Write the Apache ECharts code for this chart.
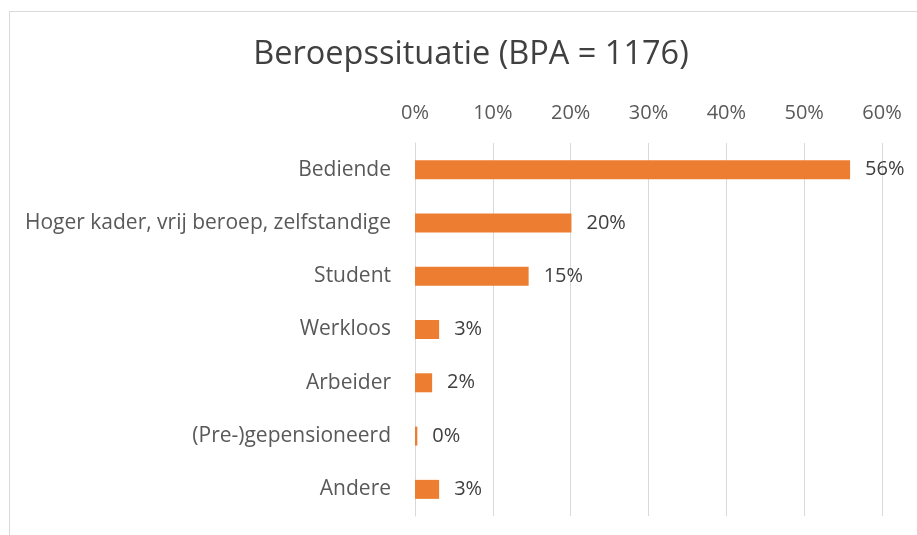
<!DOCTYPE html>
<html>
<head>
<meta charset="utf-8">
<script src="https://cdn.jsdelivr.net/npm/echarts@6/dist/echarts.min.js"></script>
<style>html,body{margin:0;padding:0;background:#fff}#c{width:917px;height:535px}</style>
</head>
<body>
<div id="c"></div>
<script>
const titleText = 'Beroepssituatie (BPA = 1176)';
const categories = ['Bediende', 'Hoger kader, vrij beroep, zelfstandige', 'Student', 'Werkloos', 'Arbeider', '(Pre-)gepensioneerd', 'Andere'];
const values = [0.559, 0.201, 0.146, 0.031, 0.022, 0.003, 0.031];
const axisMin = 0, axisMax = 0.6, axisStep = 0.1;

const FONT = 'Open Sans';
const chart = echarts.init(document.getElementById('c'));
chart.setOption({
  animation: false,
  backgroundColor: '#fff',
  graphic: [
    {type: 'line', shape: {x1: 9, y1: 11.5, x2: 917, y2: 11.5}, style: {stroke: '#d9d9d9', lineWidth: 1}},
    {type: 'line', shape: {x1: 9.5, y1: 11, x2: 9.5, y2: 535}, style: {stroke: '#d9d9d9', lineWidth: 1}}
  ],
  title: {
    text: titleText, left: 466, top: 33, textAlign: 'center',
    textStyle: {fontFamily: FONT, fontSize: 32.5, fontWeight: 'normal', color: '#404040'}
  },
  grid: {left: 415, right: 35, top: 143, bottom: 19, containLabel: false},
  xAxis: {
    type: 'value', position: 'top', min: axisMin, max: axisMax, interval: axisStep,
    axisLine: {show: false}, axisTick: {show: false},
    splitLine: {lineStyle: {color: '#d9d9d9', width: 1}},
    axisLabel: {formatter: v => Math.round(v * 100) + '%', fontFamily: FONT, fontSize: 20, color: '#595959', margin: 20}
  },
  yAxis: {
    type: 'category', data: categories, inverse: true,
    axisLine: {show: true, lineStyle: {color: '#d9d9d9'}}, axisTick: {show: false},
    axisLabel: {fontFamily: FONT, fontSize: 21, color: '#595959', margin: 24}
  },
  series: [{
    type: 'bar', data: values, barWidth: 19,
    itemStyle: {color: '#ed7d31'},
    label: {show: true, position: 'right', distance: 15, formatter: p => Math.round(p.value * 100) + '%',
      fontFamily: FONT, fontSize: 20, color: '#404040'}
  }]
});
</script>
</body>
</html>
